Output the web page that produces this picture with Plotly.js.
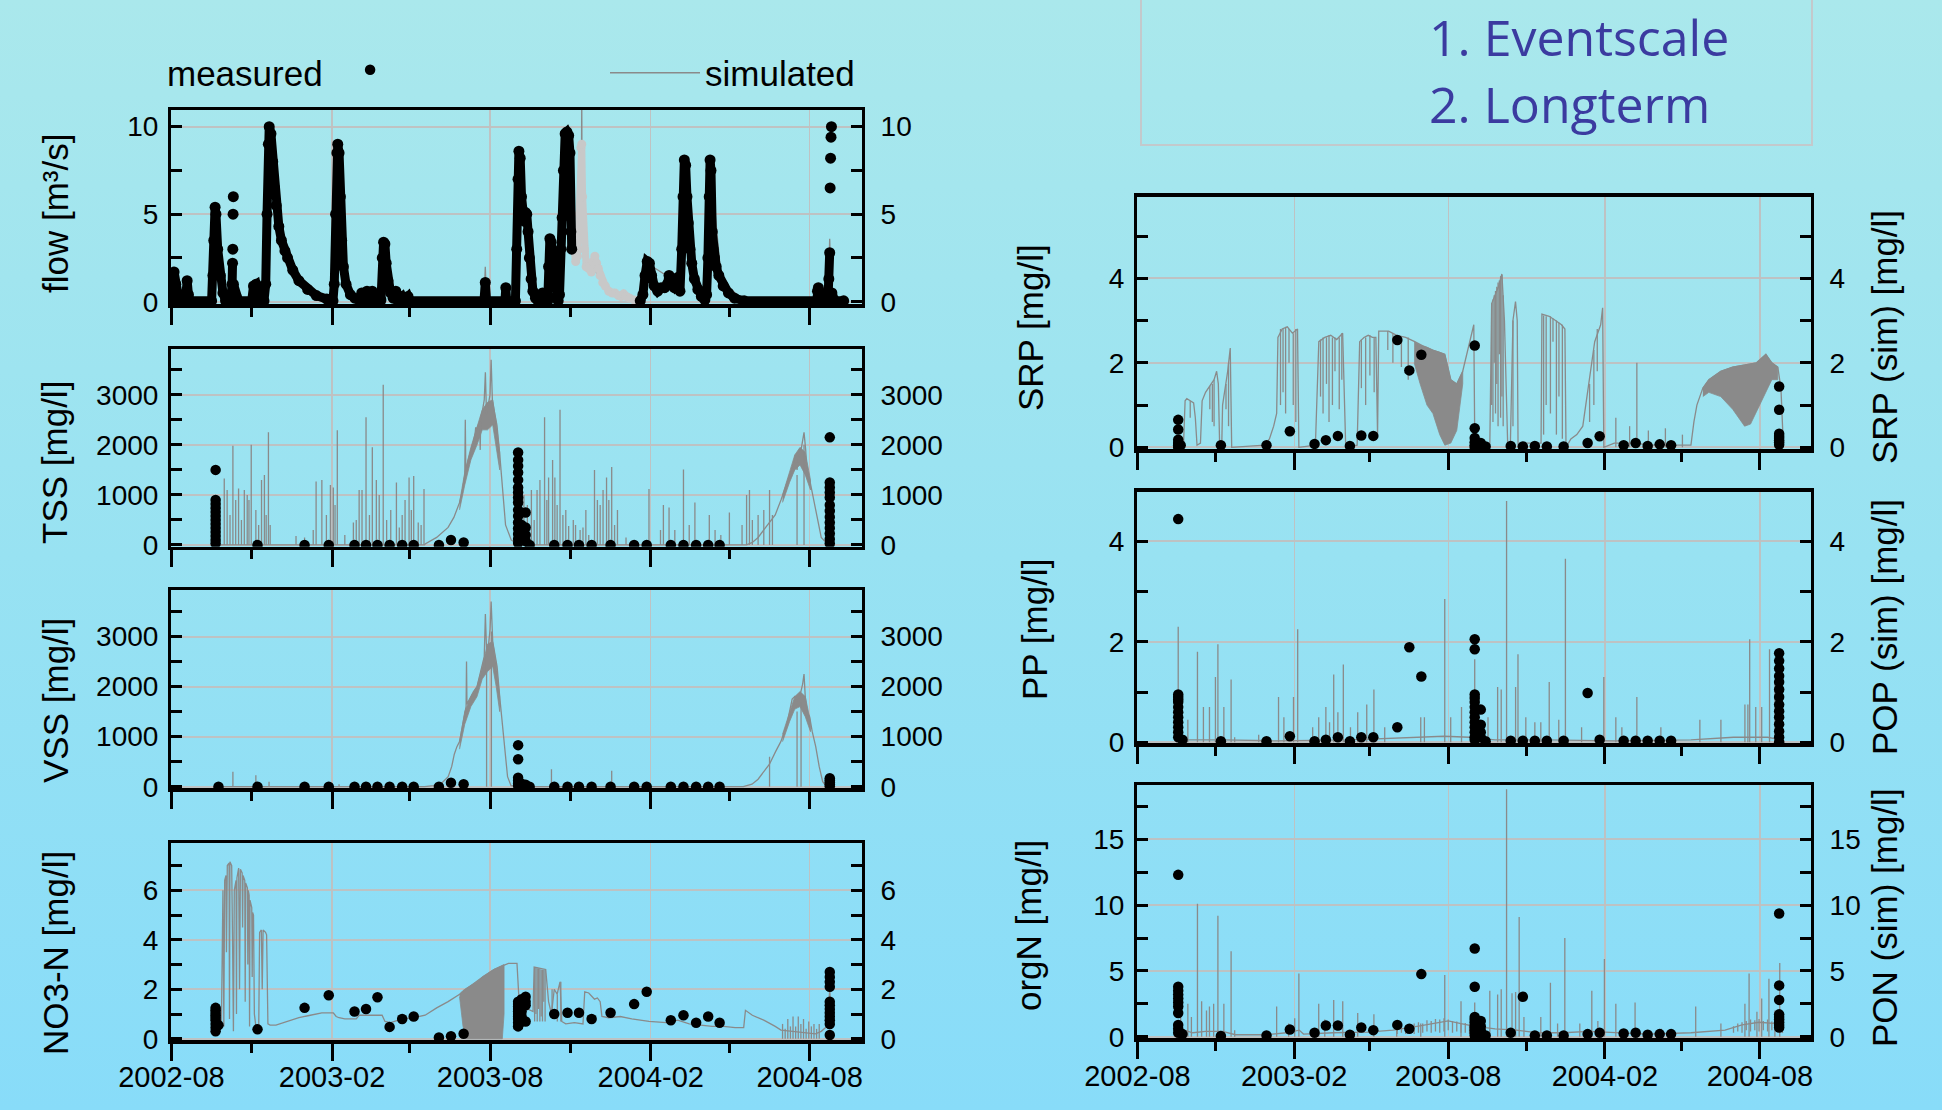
<!DOCTYPE html>
<html><head><meta charset="utf-8">
<script src="https://cdn.plot.ly/plotly-3.0.1.min.js"></script>
<style>
html,body{margin:0;padding:0;}
body{width:1942px;height:1110px;background:linear-gradient(180deg,#aae8ec 0%,#98e2f2 50%,#88dcf9 100%);overflow:hidden;}
#chart{width:1942px;height:1110px;}
</style></head>
<body><div id="chart"></div>
<script>
// ---------- DATA (day = days since 2002-08-01) ----------
const xTickLabels = ['2002-08','2003-02','2003-08','2004-02','2004-08'];

// flow [m3/s] measured (dense, null = gap)
const flowMeasured = [[0,0.05],[1,0.3],[3,1.7],[5,1.0],[7,0.3],[9,0.05],[16,0.05],[17,0.4],[18,1.2],[19.5,0.4],[21,0.05],
[46,0.05],[47.5,1.5],[48.5,3.5],[50,5.4],[51,5.0],[53,3.0],[56,1.5],[59,0.5],[62,0.05],
[68,0.05],[69.5,1.0],[70,2.2],null,[70.3,3.0],null,[70.6,5.0],null,[70.9,6.0],null,[71,1.0],[74,0.3],[77,0.05],
[92,0.05],[94,0.9],[97,1.0],[99,0.4],[101,0.05],[106,0.05],[108,1.0],[109.5,5],[111,9],[112,10],[114,9.6],[116,8],[118,6.5],[120,5.5],[123,4.3],[126,3.5],[130,2.9],[133,2.5],[139,1.8],[146,1.2],[156,0.7],[166,0.35],[178,0.15],[185,0.05],
[186.5,1.0],[188,5],[189.5,8.5],[190.5,9.0],[192,8.5],[193.5,6],[195,3.5],[197,2.0],[200,1.0],[205,0.4],[210,0.2],[215,0.1],[218,0.5],[220,0.1],[224,0.6],[226,0.1],[230,0.6],[232,0.1],[240,0.1],[241.5,2.5],[243,3.4],[244.5,3.3],[246,2.2],[248,1.2],[251,0.5],[254,0.2],[257,0.6],[259,0.1],[264,0.3],[266,0.05],[271,0.3],[273,0.05],
[358,0.05],[359.5,1.1],[361,0.05],[382,0.05],[383,0.8],[384,0.05],[394,0.05],[395.5,3],[397,7],[398,8.6],[399.5,8.2],[401,6],[402.5,5.2],[404,4.6],[405.5,5.1],[407,5.0],[408.5,4],[410,2.5],[412,1.3],[414,0.6],[417,0.2],[420,0.05],[424,0.05],[425,0.5],[426,0.05],[431,0.05],[432,2.0],[433.5,3.6],[435,3.4],[437,2.5],[439,1.2],[441,0.3],[443,0.05],[444.5,0.4],[446,3],[447.5,4.8],[449,7.5],[451,9.6],[453,9.7],[455,9.5],[456.5,8.5],[457.5,4],[458.5,3.0],null,
[537,0.05],[540,0.4],[542.5,1.5],[545,2.3],[547.5,2.2],[550,1.5],[553,0.9],[557,0.6],[561,0.8],[565,0.8],[568,1.0],[570,1.5],[572,1.0],[576,0.8],[579,1.0],[580.5,1.4],[582.5,0.6],[584.5,3],[586,6],[587.5,8.1],[589,7.8],[590.5,6],[592,4.5],[594,3],[596,2.2],[599,1.3],[603,0.7],[607,0.3],[611,0.1],[613,0.4],[614.5,2.5],[616,6],[617,8.1],[618,7.5],[619.5,4],[620.5,3],[622,2.5],[624,2.0],[627,1.5],[632,0.9],[638,0.5],[645,0.2],[656,0.05],
[739,0.05],[740,0.6],[741,0.8],[742,0.6],[744,0.3],[746,0.05],[752,0.05],[753,1.3],[754,2.8],null,[754.5,6.5],null,[755,8.2],null,[755.5,9.4],null,[756,10],null,[756.5,0.5],[760,0.05],[770,0.05]];
// flow simulated
const flowSim = [[0,0.05],[46,0.05],[49,5.6],[52,4],[57,1.5],[62,0.05],[107,0.05],[111.5,9.8],[116,7.5],[125,3.5],[140,1.6],[160,0.5],[185,0.05],[190,8.9],[197,2],[210,0.2],[241,0.1],[243,3.4],[250,0.6],[275,0.05],[358,0.05],[359.5,2.0],[361,0.05],[395,0.05],[397,8.8],[401,6],[405.5,5.3],[412,1.2],[420,0.05],[431,0.05],[433.5,3.7],[441,0.3],[445,0.3],[451,9.7],[456,9.4],[458,3],[465,2.7],[469.5,6],[470,11.5],[470.5,5],[472,2.5],[485,1.8],[500,0.6],[520,0.3],[537,0.05],[545,2.2],[570,1.4],[584,0.6],[587.5,8.1],[600,1.2],[613,0.3],[617,8.1],[630,1.2],[656,0.05],[752,0.05],[754,3.6],[756,0.3],[770,0.05]];
// flow in the gap of measurements (light grey)
const flowGap = [[458,3.2],[461,3.0],[463,2.3],[465,2.6],[467,5],[469,8.8],[470,9.0],[471,6],[473,3],[475,2.0],[478,1.9],[481,1.7],[483,2.3],[485,2.6],[487,2.2],[489,1.9],[491,1.5],[494,1.1],[497,0.9],[501,0.6],[505,0.5],[508,0.5],[512,0.35],[515,0.3],[518,0.45],[521,0.3],[525,0.2],[530,0.1],[534,0.05]];

// TSS [mg/l]
const tssSimBase = [[48,0],[290,0],[290.6,20],[303.8,150],[316.9,350],[323.5,550],[330.1,850],[333.4,1100],[336,1400],[336.6,2500],[337.2,1450],[339.9,1700],[343.2,1900],[346.5,2100],[348,2250],[348.5,2350],[349.2,2300],[353,2450],[353.7,1900],[354.3,2550],[356.4,2700],[358.3,2900],[359.6,3450],[360.9,2600],[362.9,2800],[364.9,3000],[366.2,3700],[367.6,2900],[369.5,2700],[372.8,2400],[376.1,1800],[379.4,1000],[382.7,400],[389.2,100],[395.8,20],[400,0],[658.8,0],[665.4,50],[672,150],[678.5,300],[685.1,450],[691.6,600],[698.2,900],[704.8,1250],[708.1,1400],[711.4,1500],[714.7,1800],[716.6,1500],[718,1700],[721.2,1900],[722.6,2050],[724.6,2250],[726.5,1900],[727.8,1500],[731.1,1300],[734.4,1000],[737.7,700],[741,400],[744.3,150],[750.8,30],[756,0]];
const tssSimBands = [
 [[330,700,850],[336,1200,1450],[343,1700,1950],[350,2000,2350],[356,2300,2700],[362,2300,2850],[368,2400,2900],[372,2000,2450],[376,1500,1850]],
 [[700,850,1000],[708,1250,1450],[714,1500,1800],[720,1600,1950],[726,1400,1850],[732,1100,1300]]];
const tssSimSpikes = [[60.5,1330],[63.8,1100],[67.1,600],[70.4,1980],[73.6,900],[76.9,1130],[80.2,500],[83.5,1100],[86.8,1000],[88.8,900],[91.4,2000],[96.7,700],[99.9,400],[103.2,1300],[106.5,1400],[108.5,600],[111.1,2250],[113.1,400],[142.7,180],[152.5,150],[162.4,300],[165.7,1270],[172.3,1300],[177.5,600],[182.1,1200],[185.4,1150],[187.4,800],[190.0,2290],[198.6,200],[208.4,450],[211.7,500],[215.0,1100],[218.3,1100],[222.9,2550],[226.8,600],[230.1,1950],[234.7,1300],[238.0,1000],[242.6,3200],[246.5,500],[251.2,700],[257.7,1250],[261.0,350],[264.3,600],[267.6,900],[272.2,1350],[274.8,700],[277.5,1380],[282.7,450],[286.0,400],[289.3,1120],
[403.7,1000],[407.7,800],[412.3,1100],[415.5,500],[418.8,1100],[422.1,1300],[427.4,2550],[430.0,900],[432.0,1350],[436.6,1700],[439.2,1350],[441.8,800],[445.1,2700],[448.4,600],[451.7,700],[455.0,380],[460.3,500],[462.9,400],[468.1,300],[471.4,350],[474.7,700],[478.0,200],[484.6,1500],[487.9,900],[491.1,800],[494.4,1100],[498.4,1350],[501.0,900],[504.3,1560],[507.6,400],[510.9,700],[520.7,150],[547.0,1120],[560.2,300],[563.5,800],[570.0,750],[576.6,300],[586.5,1510],[593.1,400],[599.6,850],[616.1,600],[622.7,300],[629.3,200],[639.1,650],[653.6,400],[658.8,1000],[662.1,1100],[665.4,500],[672.0,600],[678.5,700],[685.1,1100],[688.4,600],[716.6,1400],[724.6,2000]];
const tssMeasured = [[50.6,1500,900,820,740,660,580,500,420,340,260,180,100,30],[98.6,0],[152.5,0],[180.2,0],[209.7,0],[222.9,0],[236.0,0],[249.9,0],[264.3,0],[277.5,0],[306.4,0],[320.2,100],[334.7,50],
[397.1,1850,1700,1580,1450,1300,1150,1050,950,850,700,580,450,330,220,120,40],[401.1,400,200],[405.7,650,350,200,80],[410.3,0],
[438.5,0],[453.7,0],[466.8,0],[481.3,0],[503.0,0],[530.0,0],[544.4,0],[572.0,0],[586.5,0],[601.0,0],[614.8,0],[627.9,0],
[754.1,2150,1250,1150,1050,950,800,680,560,450,340,230,120,30]];

// VSS [mg/l]
const vssSimBase = [[48,0],[290,0],[300,20],[310,80],[317,200],[321,400],[324,650],[327,800],[330,900],[333,1200],[336.6,1500],[337.5,1600],[338,2500],[338.5,1650],[340,1700],[343,1800],[346,1900],[350,2000],[353,2200],[356,2400],[358.3,2600],[359.6,3450],[361,2700],[363,2800],[365,3150],[366.2,3700],[368,2900],[370,2700],[373,2400],[376,1800],[381,900],[385,200],[389,20],[395,0],[655,0],[665,50],[672,150],[679,300],[685,450],[692,700],[698,900],[705,1250],[708,1500],[711,1750],[714,1800],[718,1700],[721,1900],[723,2050],[724.6,2250],[726,1800],[728,1500],[731,1400],[734,1100],[738,800],[742,400],[746,100],[750,10],[756,0]];
const vssSimBands = [
 [[330,750,900],[336,1250,1500],[343,1600,1800],[350,1800,2000],[356,2150,2400],[362,2300,2850],[368,2400,2900],[372,2000,2450],[376,1500,1800]],
 [[700,900,1050],[708,1300,1500],[714,1550,1800],[720,1600,1900],[726,1400,1800],[732,1100,1300]]];
const vssSimSpikes = [[70.4,300],[96.7,230],[111.8,100],[192.0,50],[361,2600],[366.5,3100],[435.3,350],[504.3,320],[685.1,600],[716.6,1500],[721.2,1700]];
const vssMeasured = [[53.9,0],[98.6,0],[152.5,0],[180.2,0],[209.7,0],[222.9,0],[236.0,0],[249.9,0],[264.3,0],[277.5,0],[306.4,0],[320.2,80],[334.7,50],
[397.1,830,550,180,120,60,20],[401.1,60],[405.7,40],[410.3,0],
[438.5,0],[453.7,0],[466.8,0],[481.3,0],[503.0,0],[530.0,0],[544.4,0],[572.0,0],[586.5,0],[601.0,0],[614.8,0],[627.9,0],
[754.1,170,130,90,50,10]];

// NO3-N [mg/l]
const no3SimBase = [[55,0.5],[57.2,0.5],[59,6.0],[60,0.5],[61,6.4],[62.5,6.6],[63,3.5],[64,7.0],[66,7.1],[66.5,0.8],[67,7.15],[69,7.0],[70,4],[71,0.3],[72,6.0],[74,6.4],[74.5,1.0],[75,6.5],[77,6.9],[78,2],[79,6.85],[81,6.7],[81.5,4.5],[82,6.6],[84,6.4],[84.5,1.5],[85,6.3],[87,6.1],[87.5,3],[88,6.0],[89,5.8],[89.5,0.5],[90,5.6],[92,5.3],[92.5,2.5],[93,5.1],[94,5.0],[95,1],[96.7,0.5],[100,0.5],[101,4.3],[103,4.4],[104,2],[105,4.4],[107.8,4.3],[109,4.2],[110.5,0.6],[113,0.55],[119.7,0.55],[132.8,0.7],[146,0.85],[159.1,0.95],[172.3,1.05],[185.4,1.05],[188.7,0.9],[192,0.85],[198.6,0.8],[211.7,0.8],[215,0.95],[231.4,0.95],[241.3,0.95],[244.6,0.7],[251.2,0.65],[264.3,0.8],[277.5,0.85],[290.6,0.95],[303.8,1.25],[316.9,1.5],[330.1,1.8],[343.2,2.15],[356.4,2.5],[369.5,2.8],[379.4,2.95],[386,3.05],[395.8,3.05],[398.4,1.4],[402.4,1.3],[409,1.2],[414.2,1.1],[415.5,2.9],[422.1,2.85],[428.7,2.8],[432,1.5],[435.3,1.0],[438.5,2.0],[441.8,1.8],[445.1,2.3],[447.1,0.7],[451.7,0.6],[461.6,0.65],[471.4,0.6],[473.4,1.9],[478,1.85],[484.6,1.6],[487.9,1.65],[491.1,1.5],[493.1,0.9],[501,0.85],[514.2,0.9],[527.3,0.8],[547,0.7],[566.8,0.65],[579.9,0.75],[593.1,0.6],[606.2,0.55],[619.4,0.5],[632.5,0.5],[645.7,0.45],[655.5,0.45],[657.5,1.15],[665.4,0.95],[678.5,0.75],[691.6,0.5],[698.2,0.35],[711.4,0.3],[724.6,0.25],[737.7,0.2],[744.3,0.3],[750.8,0.5],[754.1,2.0],[756.1,0.5]];
const no3SimBands = [[[330,1.7,1.8],[334,0.5,1.95],[338,0,2.05],[343,0,2.15],[350,0,2.3],[356,0,2.5],[362,0,2.65],[369,0,2.8],[375,0,2.9],[379,0,2.95],[381,1.0,3.0]]];
const no3SimComb = [[416,0.7,2.9],[417.5,1.0,2.9],[419,0.7,2.85],[420.5,1.2,2.85],[422,0.7,2.85],[423.5,0.9,2.8],[425,0.7,2.8],[426.5,1.5,2.8],[428,0.7,2.8],[436,1.0,2.0],[442,0.7,1.8],[446,0.7,2.3],[700,0,0.6],[703,0,0.4],[706,0,0.8],[709,0,0.5],[712,0,0.9],[715,0,0.5],[718,0,0.9],[721,0,0.6],[724,0,0.8],[727,0,0.4],[730,0,0.7],[733,0,0.5],[736,0,0.6],[739,0,0.4],[742,0,0.6]];
const no3Measured = [[50.6,1.25,1.15,1.05,0.95,0.85,0.75,0.6,0.45,0.3],[53.9,0.55],[98.6,0.38],[152.5,1.25],[180.2,1.76],[209.7,1.1],[222.9,1.2],[236.0,1.68],[249.9,0.48],[264.3,0.8],[277.5,0.9],[306.4,0.05],[320.2,0.1],[334.7,0.2],
[397.1,1.5,1.4,1.3,1.2,1.1,1.0,0.9,0.8,0.65,0.5],[401.1,1.6,1.3,1.1,0.9,0.7],[405.7,1.7,1.5,1.35,0.7],
[438.5,1.0],[453.7,1.05],[466.8,1.05],[481.3,0.8],[503.0,1.05],[530.0,1.4],[544.4,1.9],[572.0,0.75],[586.5,0.95],[601.0,0.65],[614.8,0.9],[627.9,0.65],
[754.1,2.7,2.5,2.3,2.1,1.5,1.35,1.2,1.05,0.9,0.75,0.6,0.15]];

// SRP [mg/l]
const srpSimBase = [[46,0],[54,0],[56,1.1],[58,1.15],[62,1.1],[66,1.05],[68,0.7],[70,0.05],[74,0.1],[76,1.1],[80,1.3],[85,1.45],[90,1.6],[93,1.8],[95,1.5],[96.6,0],[99,0],[100,1.0],[103,1.4],[106,1.8],[109,2.35],[110.7,0],[149,0.05],[155,0.2],[160,0.5],[163.5,0.8],[165,2.6],[170,2.8],[176,2.85],[182,2.7],[188,2.8],[189.6,0],[209,0.05],[213,2.5],[220,2.6],[227,2.65],[234,2.55],[241,2.7],[244.6,0],[258,0.05],[261,2.5],[266,2.6],[271,2.65],[276,2.6],[280,2.6],[282,0.3],[283.4,2.75],[295,2.75],[304.5,2.65],[315,2.6],[325.7,2.5],[335,2.4],[346.8,2.3],[360.9,2.2],[368,1.6],[375,1.5],[382,1.8],[389,2.4],[395,2.9],[396.2,0],[413.8,0.05],[416,3.4],[420,3.6],[424,3.8],[428,4.1],[431,3.0],[434.9,0],[438,0.1],[441,3.0],[444,3.45],[446,3.0],[447,0],[450,0.1],[474,0.1],[475,3.15],[483.6,3.1],[491,3.0],[498,2.9],[502,2.8],[503.3,0],[509,0.2],[516,0.3],[523,0.5],[530,1.5],[537,2.5],[544,2.9],[546.3,3.3],[547.7,0],[560,0.1],[586,0.1],[600,0.05],[650,0.05],[653.5,0.6],[657,1.0],[664,1.4],[671,1.6],[685,1.8],[699,1.9],[713,1.95],[727,2.0],[738,2.2],[745,2.0],[752,1.9],[755.7,1.4],[758,0.3]];
const srpSimBands = [
 [[325,2.0,2.5],[332,1.5,2.42],[340,1.0,2.37],[347,0.8,2.3],[355,0.3,2.25],[361,0.05,2.2],[368,0.1,1.6],[375,0.4,1.5],[382,1.5,1.8]],
 [[664,1.2,1.4],[671,1.3,1.6],[685,1.2,1.8],[699,0.9,1.9],[713,0.5,1.95],[720,0.55,1.98],[727,0.85,2.0],[738,1.3,2.2],[745,1.6,2.0],[752,1.6,1.9]]];
const srpSimComb = [[62,0.7,1.1],[85,0.9,1.45],[88,0.6,1.5],[90,0.5,1.6],[104,0.9,1.5],[107,0.5,2.0],[168,1.0,2.8],[171,1.3,2.8],[174,0.8,2.85],[178,2.0,2.8],[183,1.0,2.7],[186,0.6,2.8],[215,1.2,2.55],[218,0.8,2.6],[222,1.5,2.6],[225,0.6,2.65],[229,1.0,2.6],[232,1.8,2.6],[237,0.9,2.6],[240,1.6,2.7],[263,1.4,2.55],[268,1.0,2.6],[273,1.7,2.65],[278,1.3,2.6],[294,2.3,2.75],[300,2.0,2.7],[310,1.9,2.6],[318,1.6,2.6],
[416,1.0,3.4],[417.5,0.6,3.5],[419,2.0,3.6],[420.5,0.8,3.7],[422,1.5,3.8],[423.5,0.5,3.9],[425,2.2,3.95],[426.5,0.7,4.05],[428,1.2,4.08],[429.5,0.5,3.6],
[441,0.5,3.0],[477,0.3,3.12],[480,1.0,3.1],[485,0.8,3.1],[488,2.5,3.05],[492,0.3,3.0],[495,1.2,2.95],[499,0.2,2.9],[531,0.6,1.5],[536,1.0,2.3],[540,1.8,2.8],[561.8,0,0.7],[578,0,0.5],[586.5,0,2.0],[600,0,0.4],[620,0,0.45],[640,0,0.3]];
const srpMeasured = [[47.9,0.65,0.42,0.18,0.1,0.05,0],[50.8,0.05],[98,0.05],[151.6,0.05],[179,0.38],[208,0.08],[221.3,0.17],[235.4,0.27],[249.5,0.03],[262.9,0.28],[277,0.27],[305.2,2.54],[319.3,1.82],[333.4,2.19],[396.1,2.41,0.45,0.22,0.12,0.05,0],[403.2,0.1,0.04],[408.9,0.02],[438.4,0.03],[452.6,0.02],[466.7,0.03],[480.8,0.02],[500.5,0.02],[528.7,0.1],[542.8,0.26],[571,0.05],[585.1,0.1],[599.2,0.03],[613.3,0.07],[626.7,0.05],[753.6,1.44,0.89,0.32,0.27,0.22,0.17,0.12,0.06]];

// PP [mg/l] measured, POP simulated
const ppSimBase = [[46,0.02],[50,0.05],[100,0.05],[160,0.03],[250,0.05],[300,0.08],[330,0.1],[360,0.12],[390,0.1],[420,0.05],[480,0.05],[560,0.03],[650,0.05],[700,0.1],[740,0.1],[756,0.05],[760,0.02]];
const ppSimSpikes = [[47.9,2.3],[59.2,0.45],[70.5,1.8],[77.5,0.7],[84.6,0.7],[91.6,1.3],[94.5,1.95],[101.5,0.7],[110,1.25],[114.2,0.1],[142.4,0.15],[165.7,0.9],[172,0.5],[183.3,0.9],[188.2,2.25],[205.8,0.3],[212.9,0.5],[221.3,0.7],[225.6,0.4],[230.5,1.35],[235.4,0.6],[241.8,1.55],[250.2,0.3],[258.7,0.6],[269.3,0.75],[277.7,1.05],[290.4,0.3],[332.7,0.5],[337,0.5],[360.9,2.85],[367.9,0.5],[380.6,0.7],[396.1,1.65],[411.7,0.5],[423,1.1],[427.2,1.05],[433.5,4.8],[444.1,1.1],[446.9,1.75],[456.1,0.5],[466.7,0.4],[473.7,0.4],[483.6,1.2],[494.8,0.45],[502.6,3.65],[521.6,0.3],[547.7,1.3],[561.8,0.5],[568.9,0.3],[586.5,0.9],[614.7,0.3],[660.5,0.45],[685.2,0.45],[713.4,0.75],[716.9,0.75],[719,2.05],[726.1,0.7],[733.1,0.7],[742.3,1.85],[748.6,1.2]];
const ppMeasured = [[47.9,4.44,0.95,0.9,0.85,0.8,0.7,0.6,0.5,0.4,0.3,0.2,0.1],[52.9,0.05],[98,0.02],[151.6,0.02],[179,0.12],[208,0.02],[221.3,0.05],[235.4,0.1],[249.5,0.02],[262.9,0.1],[277,0.1],[305.2,0.3],[319.3,1.89],[333.4,1.31],[396.1,2.05,1.85,0.95,0.88,0.8,0.7,0.6,0.5,0.4,0.3,0.2,0.1,0.05],[403.2,0.65,0.35,0.2,0.1],[408.9,0.02],[438.4,0.03],[452.6,0.03],[466.7,0.03],[480.8,0.03],[500.5,0.03],[528.7,0.98],[542.8,0.05],[571,0.03],[585.1,0.03],[599.2,0.03],[613.3,0.03],[626.7,0.03],[753.6,1.77,1.62,1.47,1.32,1.2,1.05,0.9,0.75,0.62,0.5,0.36,0.22,0.1,0.0]];

// orgN [mg/l] measured, PON simulated
const orgnSimBase = [[46,0.05],[48,0.1],[55,0.5],[65,0.3],[80,0.4],[100,0.4],[115,0.15],[150,0.15],[175,0.3],[190,0.5],[195,0.2],[230,0.3],[270,0.35],[300,0.5],[330,0.8],[350,1.0],[365,1.2],[380,1.0],[395,0.8],[420,0.6],[445,0.5],[470,0.3],[500,0.3],[530,0.4],[560,0.3],[600,0.2],[650,0.3],[690,0.5],[710,0.9],[730,1.1],[750,1.0],[758,0.3]];
const orgnSimComb = [[305,0.2,0.7],[310,0.3,0.8],[315,0.2,0.9],[320,0.3,0.85],[325,0.2,1.0],[330,0.3,1.1],[335,0.3,1.0],[340,0.4,1.25],[345,0.3,1.2],[350,0.4,1.35],[355,0.3,1.3],[360,0.4,1.4],[365,0.5,1.3],[370,0.3,1.2],[375,0.4,1.15],[380,0.3,1.0],[385,0.3,1.05],[390,0.2,0.9],
[700,0.3,0.8],[705,0.4,1.0],[710,0.3,1.1],[715,0.5,1.2],[720,0.4,1.3],[725,0.5,1.25],[730,0.4,1.35],[735,0.5,1.2],[740,0.4,1.3],[745,0.5,1.15],[750,0.4,1.0]];
const orgnSimSpikes = [[50.8,3.0],[59.2,2.5],[63.4,1.5],[70.5,10.1],[75.4,2.7],[81.1,2.0],[84.6,2.3],[89.5,2.5],[94.5,9.2],[101.5,2.5],[110,6.5],[114.2,0.5],[163.5,2.3],[177.6,1.0],[184.7,1.4],[189.6,4.8],[212.9,2.5],[220,1.3],[230.5,2.8],[241.1,2.7],[258.7,1.8],[277.7,1.7],[304.5,0.8],[332.7,1.0],[360.9,4.7],[380,2.7],[396.1,2.6],[413.8,3.5],[423,3.2],[427.2,3.6],[433.5,18.8],[439.9,3.3],[444.1,3.4],[448.3,9.1],[453.9,1.5],[473.7,1.5],[485,4.1],[493.4,1.0],[501.9,7.5],[519.5,1.0],[533.6,3.5],[540.7,1.2],[548.4,5.9],[561.8,2.5],[584.4,2.6],[615.4,0.6],[655.6,2.3],[685.2,1.0],[713.4,2.5],[718.3,4.8],[727.5,1.9],[733.1,2.9],[741.6,4.4],[748.6,2.0],[754.3,5.6]];
const orgnMeasured = [[47.9,12.3,3.8,3.5,3.2,2.9,2.6,2.3,1.8,0.9,0.6,0.3],[52.9,0.2],[98,0.05],[151.6,0.1],[179,0.55],[208,0.3],[221.3,0.85],[235.4,0.85],[249.5,0.15],[262.9,0.7],[277,0.5],[305.2,0.9],[319.3,0.6],[333.4,4.76],[396.1,6.7,3.8,1.5,1.3,1.1,0.9,0.7,0.5,0.3,0.1],[403.2,1.2,0.8,0.5,0.2],[408.9,0.1],[438.4,0.3],[452.6,3.04],[466.7,0.1],[480.8,0.1],[500.5,0.1],[528.7,0.2],[542.8,0.3],[571,0.25],[585.1,0.3],[599.2,0.15],[613.3,0.2],[626.7,0.2],[753.6,9.37,3.9,2.8,1.7,1.5,1.3,1.1,0.9,0.7]];

// ---------- HELPERS ----------
const T0 = Date.UTC(2002,7,1);
function dt(d){const s=new Date(T0+d*86400000).toISOString();return s.slice(0,10)+' '+s.slice(11,16);}
function fromPairs(a){return {x:a.map(p=>p?dt(p[0]):null), y:a.map(p=>p?p[1]:null)};}
function fromSamples(a){const x=[],y=[];a.forEach(r=>{for(let i=1;i<r.length;i++){x.push(dt(r[0]));y.push(r[i]);}});return {x,y};}
function fromSpikes(a){const x=[],y=[];a.forEach(r=>{x.push(dt(r[0]),dt(r[0]),null);y.push(0,r[1],null);});return {x,y};}
function fromComb(a){const x=[],y=[];a.forEach(r=>{x.push(dt(r[0]),dt(r[0]),null);y.push(r[1],r[2],null);});return {x,y};}
function fromBand(a){const x=a.map(r=>dt(r[0])),y=a.map(r=>r[2]);const rv=a.slice().reverse();return {x:x.concat(rv.map(r=>dt(r[0]))), y:y.concat(rv.map(r=>r[1]))};}

const FONT='Liberation Sans, Arial, sans-serif';
const SIM='#8a8a8a', GRID='rgba(192,192,192,0.95)';
const traces=[];
function simLine(d,xa,ya,extra){traces.push(Object.assign({type:'scatter',mode:'lines',x:d.x,y:d.y,xaxis:xa,yaxis:ya,line:{color:SIM,width:1.3},hoverinfo:'skip',showlegend:false},extra||{}));}
function simBand(d,xa,ya){traces.push({type:'scatter',mode:'lines',x:d.x,y:d.y,xaxis:xa,yaxis:ya,fill:'toself',fillcolor:SIM,line:{color:SIM,width:0.8},hoverinfo:'skip',showlegend:false});}
function meas(d,xa,ya,extra){traces.push(Object.assign({type:'scatter',mode:'markers',x:d.x,y:d.y,xaxis:xa,yaxis:ya,marker:{color:'#000',size:10.5},showlegend:false},extra||{}));}

// panel 1 flow
simLine(fromPairs(flowSim),'x','y');
traces.push({type:'scatter',mode:'lines+markers',x:fromPairs(flowGap).x,y:fromPairs(flowGap).y,xaxis:'x',yaxis:'y',line:{color:'#c8c8c8',width:7},marker:{color:'#c8c8c8',size:9},showlegend:false,hoverinfo:'skip'});
traces.push({type:'scatter',mode:'lines+markers',x:fromPairs(flowMeasured).x,y:fromPairs(flowMeasured).y,xaxis:'x',yaxis:'y',line:{color:'#000',width:9},marker:{color:'#000',size:11},showlegend:false,connectgaps:false});
// panel 2 TSS
tssSimBands.forEach(b=>simBand(fromBand(b),'x2','y3'));
simLine(fromPairs(tssSimBase),'x2','y3',{showlegend:true,name:'simulated',legend:'legend'});
simLine(fromSpikes(tssSimSpikes),'x2','y3');
meas(fromSamples(tssMeasured),'x2','y3',{showlegend:true,name:' ',legend:'legend2'});
// panel 3 VSS
vssSimBands.forEach(b=>simBand(fromBand(b),'x3','y5'));
simLine(fromPairs(vssSimBase),'x3','y5');
simLine(fromSpikes(vssSimSpikes),'x3','y5');
meas(fromSamples(vssMeasured),'x3','y5');
// panel 4 NO3
no3SimBands.forEach(b=>simBand(fromBand(b),'x4','y7'));
simLine(fromPairs(no3SimBase),'x4','y7');
simLine(fromComb(no3SimComb),'x4','y7');
meas(fromSamples(no3Measured),'x4','y7');
// panel R1 SRP
srpSimBands.forEach(b=>simBand(fromBand(b),'x5','y9'));
simLine(fromPairs(srpSimBase),'x5','y9');
simLine(fromComb(srpSimComb),'x5','y9');
meas(fromSamples(srpMeasured),'x5','y9');
// panel R2 PP
simLine(fromPairs(ppSimBase),'x6','y11');
simLine(fromSpikes(ppSimSpikes),'x6','y11');
meas(fromSamples(ppMeasured),'x6','y11');
// panel R3 orgN
simLine(fromPairs(orgnSimBase),'x7','y13');
simLine(fromComb(orgnSimComb),'x7','y13');
simLine(fromSpikes(orgnSimSpikes),'x7','y13');
meas(fromSamples(orgnMeasured),'x7','y13');
// secondary (right-hand) axes carry an empty placeholder trace so that they are drawn
[['x','y2'],['x2','y4'],['x3','y6'],['x4','y8'],['x5','y10'],['x6','y12'],['x7','y14']].forEach(p=>{
 traces.push({type:'scatter',mode:'markers',x:[dt(0)],y:[0],xaxis:p[0],yaxis:p[1],marker:{opacity:0,size:1},hoverinfo:'skip',showlegend:false});});

// ---------- LAYOUT ----------
const XL=[171/1942,862/1942], XR=[1137/1942,1811/1942];
function xAxis(dom,anchor,labels){return {domain:dom,anchor:anchor,type:'date',range:['2002-07-31 12:00','2004-09-30'],
 tick0:'2002-08-01',dtick:'M6',tickformat:'%Y-%m',ticks:'outside',ticklen:17,tickwidth:3,tickcolor:'#000',
 showline:true,linecolor:'#000',linewidth:3.5,mirror:true,showgrid:true,gridcolor:GRID,gridwidth:1.2,zeroline:false,
 showticklabels:labels,tickfont:{family:FONT,size:29,color:'#000'},ticklabelstandoff:-8,
 minor:{dtick:'M3',tick0:'2002-08-01',ticks:'outside',ticklen:9,tickwidth:3,tickcolor:'#000',showgrid:false},fixedrange:true};}
function yAxis(dom,anchor,range,dtick,mdt,side,over){const a={domain:dom,anchor:anchor,range:range,tick0:0,dtick:dtick,
 ticks:'inside',ticklen:11,tickwidth:3,tickcolor:'#000',showline:true,linecolor:'#000',linewidth:3,
 showgrid:!over,gridcolor:GRID,gridwidth:2,zeroline:false,tickfont:{family:FONT,size:28,color:'#000'},ticklabelstandoff:over?10:4,
 minor:{dtick:mdt,tick0:0,ticks:'inside',ticklen:11,tickwidth:3,tickcolor:'#000',showgrid:false},fixedrange:true};
 if(side){a.side=side;} if(over){a.overlaying=over;} return a;}

const P1=[1-304/1110,1-110/1110], P2=[1-546.7/1110,1-349.3/1110], P3=[1-788.3/1110,1-590/1110], P4=[1-1040/1110,1-843.3/1110];
const R1=[1-449/1110,1-196.7/1110], R2=[1-743.3/1110,1-491.7/1110], R3=[1-1038.3/1110,1-785/1110];

const layout={width:1942,height:1110,margin:{l:0,r:0,t:0,b:0},paper_bgcolor:'rgba(0,0,0,0)',plot_bgcolor:'rgba(0,0,0,0)',
 font:{family:FONT,color:'#000'},
 xaxis:xAxis(XL,'y',false), yaxis:yAxis(P1,'x',[-0.13,10.95],5,2.5), yaxis2:yAxis(P1,'x',[-0.13,10.95],5,2.5,'right','y'),
 xaxis2:xAxis(XL,'y3',false), yaxis3:yAxis(P2,'x2',[-35,3910],1000,500), yaxis4:yAxis(P2,'x2',[-35,3910],1000,500,'right','y3'),
 xaxis3:xAxis(XL,'y5',false), yaxis5:yAxis(P3,'x3',[-32,3930],1000,500), yaxis6:yAxis(P3,'x3',[-32,3930],1000,500,'right','y5'),
 xaxis4:xAxis(XL,'y7',true), yaxis7:yAxis(P4,'x4',[-0.05,7.9],2,1), yaxis8:yAxis(P4,'x4',[-0.05,7.9],2,1,'right','y7'),
 xaxis5:xAxis(XR,'y9',false), yaxis9:yAxis(R1,'x5',[-0.04,5.93],2,1), yaxis10:yAxis(R1,'x5',[-0.04,5.93],2,1,'right','y9'),
 xaxis6:xAxis(XR,'y11',false), yaxis11:yAxis(R2,'x6',[-0.02,4.985],2,1), yaxis12:yAxis(R2,'x6',[-0.02,4.985],2,1,'right','y11'),
 xaxis7:xAxis(XR,'y13',true), yaxis13:yAxis(R3,'x7',[-0.12,19.13],5,2.5), yaxis14:yAxis(R3,'x7',[-0.12,19.13],5,2.5,'right','y13'),
 legend:{x:605/1942,y:1-73/1110,xanchor:'left',yanchor:'middle',bgcolor:'rgba(0,0,0,0)',font:{family:FONT,size:35,color:'#000'},itemwidth:90},
 legend2:{x:165/1942,y:1-70/1110,xanchor:'left',yanchor:'middle',bgcolor:'rgba(0,0,0,0)',font:{family:FONT,size:35,color:'#000'},
   title:{text:'measured\u00A0\u00A0',side:'left',font:{family:FONT,size:35,color:'#000'}}},
 shapes:[{type:'rect',xref:'paper',yref:'paper',x0:1141/1942,x1:1812/1942,y0:1-145/1110,y1:1.02,line:{color:'#c3c9cc',width:2},fillcolor:'rgba(0,0,0,0)'}],
 annotations:[]
};
function ytitle(text,x,y){layout.annotations.push({text:text,xref:'paper',yref:'paper',x:x/1942,y:1-y/1110,xanchor:'center',yanchor:'middle',textangle:-90,showarrow:false,font:{family:FONT,size:35,color:'#000'}});}
ytitle('flow [m³/s]',55,214);
ytitle('TSS [mg/l]',55,463);
ytitle('VSS [mg/l]',55,701);
ytitle('NO3-N [mg/l]',55,953);
ytitle('SRP [mg/l]',1030,328);
ytitle('PP [mg/l]',1034,630);
ytitle('orgN [mg/l]',1028,926);
ytitle('SRP (sim) [mg/l]',1884,337);
ytitle('POP (sim) [mg/l]',1884,627);
ytitle('PON (sim) [mg/l]',1884,918);
layout.annotations.push({text:'1. Eventscale',xref:'paper',yref:'paper',x:1427/1942,y:1-37/1110,xanchor:'left',yanchor:'middle',showarrow:false,font:{family:'Open Sans, sans-serif',size:50,color:'#3b3ba0'}});
layout.annotations.push({text:'2. Longterm',xref:'paper',yref:'paper',x:1427/1942,y:1-104/1110,xanchor:'left',yanchor:'middle',showarrow:false,font:{family:'Open Sans, sans-serif',size:50,color:'#3b3ba0'}});

Plotly.newPlot('chart',traces,layout,{staticPlot:true,displayModeBar:false});
</script></body></html>
